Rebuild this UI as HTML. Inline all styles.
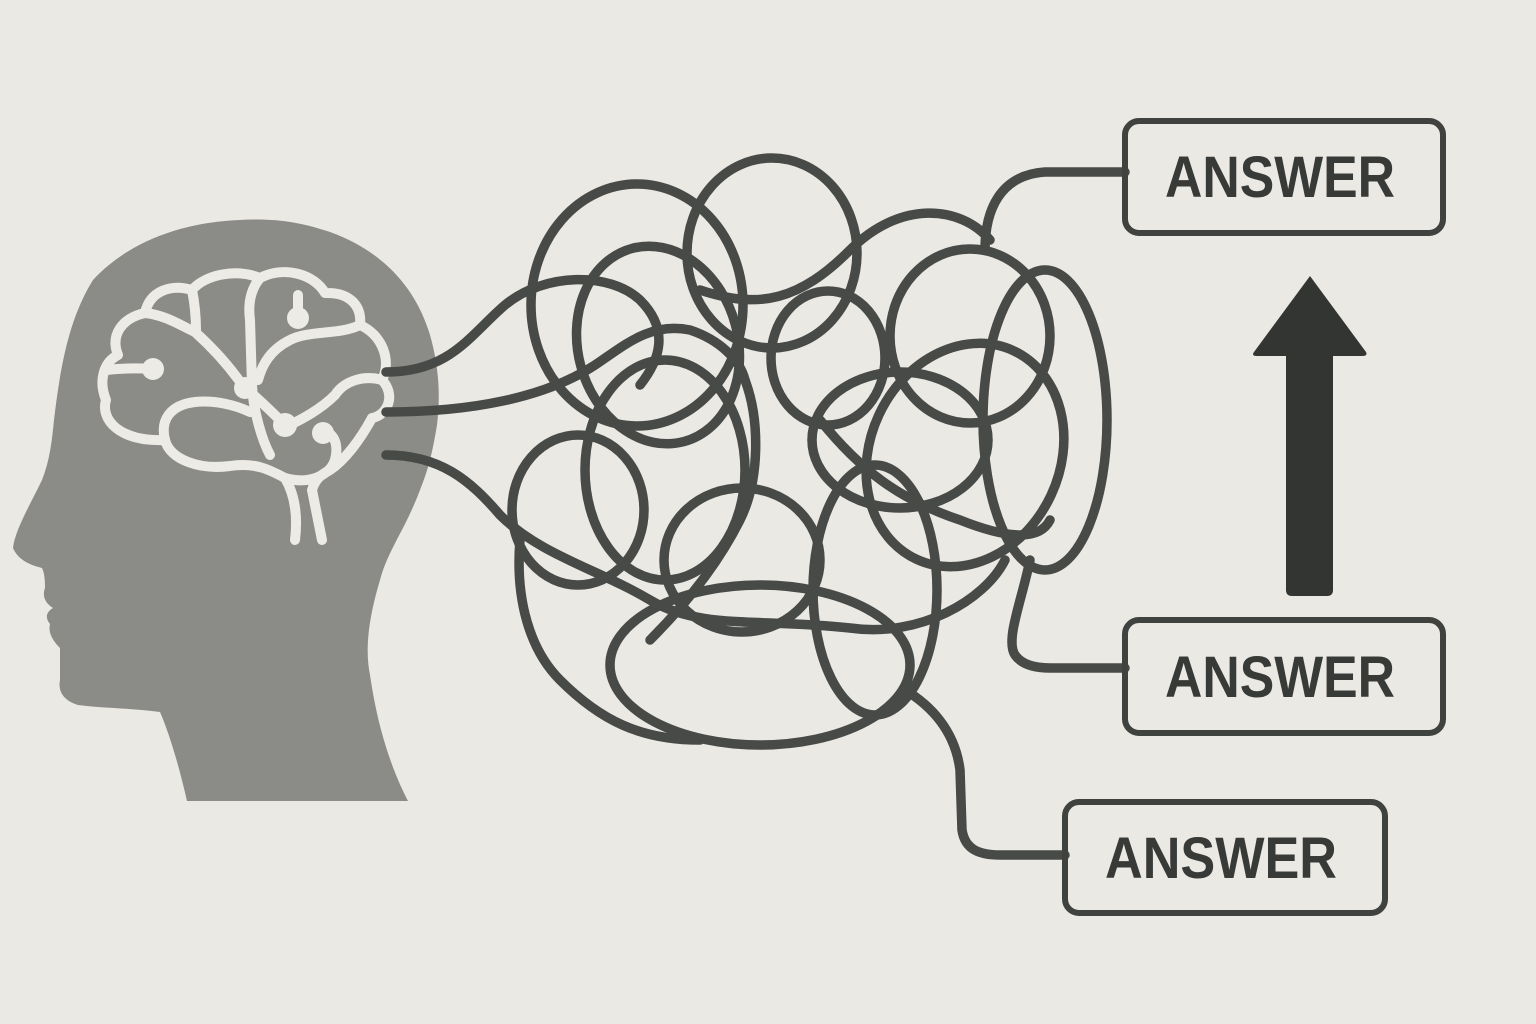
<!DOCTYPE html>
<html><head><meta charset="utf-8"><style>
html,body{margin:0;padding:0;background:#ebe9e4;}
svg{display:block}
</style></head><body>
<svg width="1536" height="1024" viewBox="0 0 1536 1024" xmlns="http://www.w3.org/2000/svg">
<rect width="1536" height="1024" fill="#ebe9e4"/>
<!-- head -->
<path fill="#8b8b87" d="M240 220 C275 218 300 222 330 232 C380 250 415 285 430 335 C440 370 440 400 437 425 C432 455 428 470 420 490 C405 530 388 550 380 580 C368 620 365 650 370 675 C378 730 392 770 408 801 L187 801 C180 770 170 735 160 712 C130 708 100 708 78 705 C62 700 58 690 60 680 L60 648 C52 640 48 632 50 624 C45 618 46 612 53 608 C45 603 42 596 45 588 C45 578 44 572 42 568 C30 565 18 560 13 548 C15 530 30 505 42 480 C50 460 52 440 54 420 C60 370 68 320 93 280 C130 240 185 222 240 220 Z"/>
<!-- brain -->
<g fill="none" stroke="#ecebe6" stroke-width="10" stroke-linecap="round" stroke-linejoin="round">
<path d="M165 440 C120 442 100 420 106 400 C98 380 104 362 118 355 C110 335 122 318 145 313 C150 290 172 284 192 290 C205 275 235 268 260 278 C285 265 315 275 325 293 C350 292 362 306 360 325 C382 335 392 360 382 380 C396 395 388 415 372 418"/>
<path d="M106 370 C125 368 140 368 153 369"/>
<path d="M145 313 C165 315 180 325 195 332 C215 350 232 370 243 386"/>
<path d="M192 290 C195 305 196 318 196 330"/>
<path d="M260 278 C250 290 248 305 250 320 L252 385 C253 410 262 440 270 455"/>
<path d="M298 318 L298 295"/>
<path d="M360 325 C340 335 310 330 290 340 C270 350 262 365 258 380"/>
<path d="M243 386 C260 400 275 415 285 425"/>
<path d="M165 440 C160 420 170 405 195 402 C215 400 235 405 250 412"/>
<path d="M165 440 C170 460 200 470 230 466 C255 462 270 470 285 478 C310 485 330 475 335 460 C340 440 330 430 322 432"/>
<path d="M372 418 C360 440 345 460 330 470 C320 475 315 480 312 490 L322 540"/>
<path d="M285 478 C295 495 298 515 295 540"/>
<path d="M382 380 C365 375 345 380 335 395 C320 410 300 420 290 425"/>
</g>
<g fill="#ecebe6">
<circle cx="298" cy="318" r="11"/><circle cx="153" cy="369" r="11"/><circle cx="245" cy="388" r="11"/><circle cx="285" cy="425" r="12"/><circle cx="323" cy="433" r="11"/>
</g>
<!-- tangle -->
<g fill="none" stroke="#474a47" stroke-width="9.5" stroke-linecap="round">
<path d="M386 372 C450 372 470 335 505 305 C545 272 610 272 640 300 C670 330 660 360 640 385"/>
<path d="M386 412 C470 412 545 398 595 365 C625 345 650 322 690 330 C720 340 740 360 745 380"/>
<path d="M386 455 C440 455 470 480 500 515 C540 555 600 570 650 600 C700 630 760 618 850 628 C920 638 985 600 1005 560"/>
<ellipse cx="772" cy="253" rx="85" ry="95"/>
<ellipse cx="637" cy="305" rx="106" ry="121"/>
<ellipse cx="658" cy="345" rx="80" ry="100" transform="rotate(-15 658 345)"/>
<ellipse cx="828" cy="358" rx="57" ry="67"/>
<ellipse cx="970" cy="336" rx="80" ry="87"/>
<ellipse cx="1045" cy="420" rx="62" ry="150"/>
<ellipse cx="578" cy="510" rx="66" ry="75"/>
<ellipse cx="665" cy="470" rx="80" ry="110"/>
<ellipse cx="742" cy="560" rx="78" ry="72"/>
<ellipse cx="875" cy="590" rx="62" ry="125"/>
<ellipse cx="760" cy="665" rx="150" ry="80"/>
<ellipse cx="965" cy="455" rx="95" ry="115" transform="rotate(25 965 455)"/>
<ellipse cx="900" cy="440" rx="88" ry="68"/>
<path d="M700 290 C760 310 800 300 850 250 C900 200 960 205 990 240"/>
<path d="M745 380 C760 420 760 480 740 520 C720 560 690 600 650 640"/>
<path d="M820 420 C860 470 900 500 960 520 C1010 540 1040 540 1050 520"/>
<path d="M520 540 C515 600 530 650 560 680 C600 720 640 740 700 740"/>
<!-- exits -->
<path d="M985 250 C985 210 1000 175 1045 172 L1125 172"/>
<path d="M1030 560 C1022 600 1005 640 1015 655 C1022 665 1035 668 1050 668 L1125 668"/>
<path d="M905 690 C930 705 955 730 960 770 L962 830 C965 850 980 855 1000 855 L1065 855"/>
</g>
<!-- boxes -->
<g fill="none" stroke="#3f423f" stroke-width="6">
<rect x="1125" y="121" width="318" height="112" rx="14"/>
<rect x="1125" y="620" width="318" height="113" rx="14"/>
<rect x="1065" y="802" width="320" height="111" rx="14"/>
</g>
<g font-family="'Liberation Sans', sans-serif" font-weight="bold" font-size="58" fill="#383a38">
<text x="1165" y="197" textLength="230" lengthAdjust="spacingAndGlyphs">ANSWER</text>
<text x="1165" y="697" textLength="230" lengthAdjust="spacingAndGlyphs">ANSWER</text>
<text x="1105" y="878" textLength="232" lengthAdjust="spacingAndGlyphs">ANSWER</text>
</g>
<!-- arrow -->
<path fill="#333533" d="M1310 276 L1366 352 Q1368 356 1362 356 L1333 356 L1333 590 Q1333 596 1327 596 L1292 596 Q1286 596 1286 590 L1286 356 L1257 356 Q1251 356 1254 352 Z"/>
</svg>
</body></html>
